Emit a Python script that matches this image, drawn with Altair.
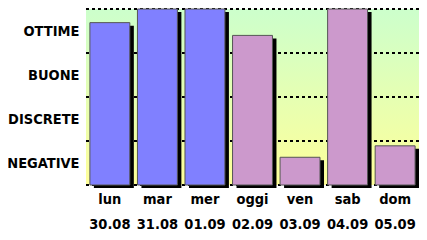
import altair as alt
import pandas as pd

days = ["lun", "mar", "mer", "oggi", "ven", "sab", "dom"]
dates = ["30.08", "31.08", "01.09", "02.09", "03.09", "04.09", "05.09"]
values = [3.69, 4.0, 4.0, 3.4, 0.63, 4.0, 0.89]
kinds = ["past", "past", "past", "fc", "fc", "fc", "fc"]
levels = ["NEGATIVE", "DISCRETE", "BUONE", "OTTIME"]
grid_levels = [0, 1, 2, 3, 4]

W, H = 333, 176
FONT = "DejaVu Sans Condensed"

df = pd.DataFrame({
    "label": [f"{d}|{t}" for d, t in zip(days, dates)],
    "value": values,
    "kind": kinds,
})

grad = alt.LinearGradient(
    gradient="linear",
    stops=[alt.GradientStop(color="#ccffcc", offset=0),
           alt.GradientStop(color="#ffff99", offset=1)],
    x1=0, x2=0, y1=0, y2=1,
)

bg = alt.Chart(alt.Data(values=[{}])).mark_rect(color=grad).encode(
    x=alt.value(0), x2=alt.value(W), y=alt.value(0), y2=alt.value(H)
)

grid = alt.Chart(pd.DataFrame({"v": grid_levels})).mark_rule(
    color="black", strokeWidth=2, strokeDash=[3, 3]
).encode(y=alt.Y("v:Q", scale=alt.Scale(domain=[0, 4], nice=False)))

label_expr = "[" + ",".join(f"'{l}'" for l in levels) + "][floor(datum.value)]"

xenc = alt.X(
    "label:N", sort=None, title=None,
    scale=alt.Scale(paddingInner=0.16, paddingOuter=0.082),
    axis=alt.Axis(labelExpr="split(datum.label, '|')", labelAngle=0,
                  ticks=False, domain=False, labelFont=FONT, labelFontWeight="bold",
                  labelFontSize=14.5, labelColor="black", labelLineHeight=25,
                  labelPadding=7, labelBaseline="top"),
)
yenc = alt.Y(
    "value:Q", title=None,
    scale=alt.Scale(domain=[0, 4], nice=False),
    axis=alt.Axis(values=[0.5, 1.5, 2.5, 3.5], labelExpr=label_expr, ticks=False,
                  domain=False, grid=False, labelFont=FONT, labelFontWeight="bold",
                  labelFontSize=14.5, labelColor="black", labelPadding=7),
)

shadow = alt.Chart(df).mark_bar(
    color="black", xOffset=4, x2Offset=4, yOffset=3, y2Offset=3
).encode(x=xenc, y=yenc)

bars = alt.Chart(df).mark_bar(stroke="#555555", strokeWidth=1).encode(
    x=xenc, y=yenc,
    color=alt.Color("kind:N", scale=alt.Scale(domain=["past", "fc"],
                                               range=["#8080ff", "#cc99cc"]),
                    legend=None),
)

chart = alt.layer(bg, grid, shadow, bars).properties(
    width=W, height=H,
    autosize=alt.AutoSizeParams(type="none"),
    padding={"left": 78, "top": 1, "right": 0, "bottom": 47},
).configure_view(stroke=None).resolve_scale(y="shared")

chart.save("out.html", embed_options={"renderer": "svg", "actions": False})
